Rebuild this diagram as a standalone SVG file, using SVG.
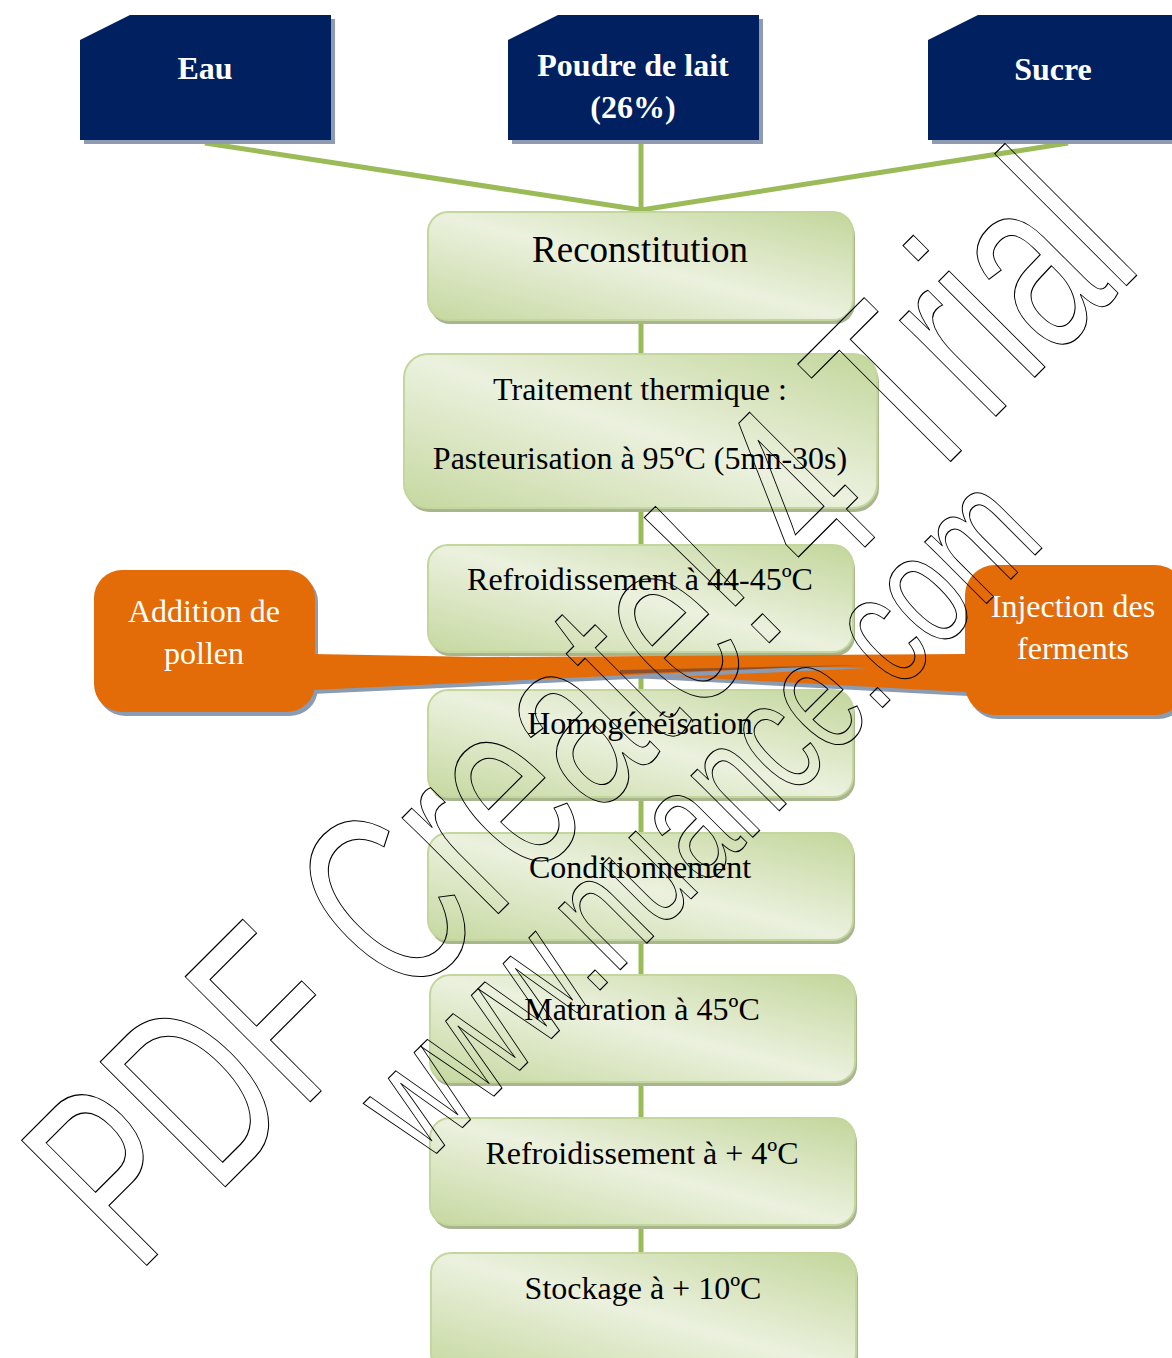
<svg xmlns="http://www.w3.org/2000/svg" width="1172" height="1358" viewBox="0 0 1172 1358">
<defs>
<linearGradient id="gg" x1="1" y1="0" x2="0" y2="1">
<stop offset="0" stop-color="#c3d69b"/>
<stop offset="0.5" stop-color="#ebf1de"/>
<stop offset="1" stop-color="#c6d8a0"/>
</linearGradient>
</defs>
<style>
.navy{fill:#002060}
.nshadow{fill:#8e9bb1}
.ntext{font-family:"Liberation Serif",serif;font-weight:bold;font-size:32px;fill:#fff;text-anchor:middle}
.conn{stroke:#9bbb59;stroke-width:5;fill:none}
.gbox{fill:url(#gg);stroke:#c3d69b;stroke-width:2}
.gshadow{fill:#a9b58f}
.gtext{font-family:"Liberation Serif",serif;font-size:32px;fill:#000;text-anchor:middle}
.orange{fill:#e36c09}
.oshadow{fill:#8a9bb2}
.otext{font-family:"Liberation Serif",serif;font-size:32px;fill:#fff;text-anchor:middle}
.wm{font-family:"Liberation Sans",sans-serif;fill:none;stroke:#000;stroke-width:1.2}
</style>

<g id="connectors">
<line class="conn" x1="205" y1="143" x2="641" y2="210"/>
<line class="conn" x1="641" y1="143" x2="641" y2="210"/>
<line class="conn" x1="1068" y1="143" x2="641" y2="210"/>
<line class="conn" x1="641" y1="210" x2="641" y2="1256"/>
</g>

<g id="node-eau">
<polygon class="nshadow" points="84,44 134,19 335,19 335,144 84,144"/>
<polygon class="navy" points="80,40 130,15 331,15 331,140 80,140"/>
<text class="ntext" x="205" y="79">Eau</text>
</g>
<g id="node-poudre">
<polygon class="nshadow" points="512,44 562,19 763,19 763,144 512,144"/>
<polygon class="navy" points="508,40 558,15 759,15 759,140 508,140"/>
<text class="ntext" x="633" y="76">Poudre de lait</text>
<text class="ntext" x="633" y="118">(26%)</text>
</g>
<g id="node-sucre">
<polygon class="nshadow" points="932,44 982,19 1176,19 1176,144 932,144"/>
<polygon class="navy" points="928,40 978,15 1176,15 1176,140 928,140"/>
<text class="ntext" x="1053" y="80">Sucre</text>
</g>

<g id="node-reconstitution">
<rect class="gshadow" x="430" y="216" width="425" height="108" rx="20"/>
<rect class="gbox" x="428" y="212" width="425" height="108" rx="20"/>
<text class="gtext" x="640" y="262" style="font-size:37px">Reconstitution</text>
</g>
<g id="node-traitement">
<rect class="gshadow" x="406" y="358" width="473" height="154" rx="24"/>
<rect class="gbox" x="404" y="354" width="473" height="154" rx="24"/>
<text class="gtext" x="640" y="400">Traitement thermique :</text>
<text class="gtext" x="640" y="469">Pasteurisation à 95ºC (5mn-30s)</text>
</g>
<g id="node-refroid1">
<rect class="gshadow" x="430" y="549" width="425" height="107" rx="20"/>
<rect class="gbox" x="428" y="545" width="425" height="107" rx="20"/>
<text class="gtext" x="640" y="590">Refroidissement à 44-45ºC</text>
</g>
<g id="node-homog">
<rect class="gshadow" x="430" y="694" width="425" height="107" rx="20"/>
<rect class="gbox" x="428" y="690" width="425" height="107" rx="20"/>
<text class="gtext" x="640" y="734">Homogénéisation</text>
</g>
<g id="node-condit">
<rect class="gshadow" x="430" y="837" width="425" height="107" rx="20"/>
<rect class="gbox" x="428" y="833" width="425" height="107" rx="20"/>
<text class="gtext" x="640" y="878">Conditionnement</text>
</g>
<g id="node-maturation">
<rect class="gshadow" x="432" y="979" width="425" height="107" rx="20"/>
<rect class="gbox" x="430" y="975" width="425" height="107" rx="20"/>
<text class="gtext" x="642" y="1020">Maturation à 45ºC</text>
</g>
<g id="node-refroid2">
<rect class="gshadow" x="432" y="1122" width="425" height="107" rx="20"/>
<rect class="gbox" x="430" y="1118" width="425" height="107" rx="20"/>
<text class="gtext" x="642" y="1164">Refroidissement à + 4ºC</text>
</g>
<g id="node-stockage">
<rect class="gshadow" x="433" y="1257" width="425" height="120" rx="20"/>
<rect class="gbox" x="431" y="1253" width="425" height="120" rx="20"/>
<text class="gtext" x="643" y="1299">Stockage à + 10ºC</text>
</g>

<g id="node-injection">
<polygon class="oshadow" points="968,658 334,662 968,696"/>
<rect class="oshadow" x="968" y="569" width="220" height="150" rx="30"/>
<polygon class="orange" points="966,654 330,658 966,692"/>
<rect class="orange" x="965" y="565" width="220" height="150" rx="30"/>
<text class="otext" x="1073" y="617">Injection des</text>
<text class="otext" x="1073" y="659">ferments</text>
</g>
<g id="node-pollen">
<polygon class="oshadow" points="312,658 868,668 312,694"/>
<rect class="oshadow" x="97" y="574" width="221" height="142" rx="28"/>
<polygon class="orange" points="312,654 865,664 312,690"/>
<rect class="orange" x="94" y="570" width="221" height="142" rx="28"/>
<polygon points="620,670 865,665 620,674" fill="#7a4a32" opacity="0.8"/>
<text class="otext" x="204" y="622">Addition de</text>
<text class="otext" x="204" y="664">pollen</text>
</g>

<g id="watermark">
<text class="wm" transform="translate(137,1275) rotate(-45)" font-size="257" textLength="1425" lengthAdjust="spacingAndGlyphs">PDF Create! 4 Trial</text>
<text class="wm" transform="translate(425,1165) rotate(-45)" font-size="165" textLength="880" lengthAdjust="spacingAndGlyphs">www.nuance.com</text>
</g>
</svg>
